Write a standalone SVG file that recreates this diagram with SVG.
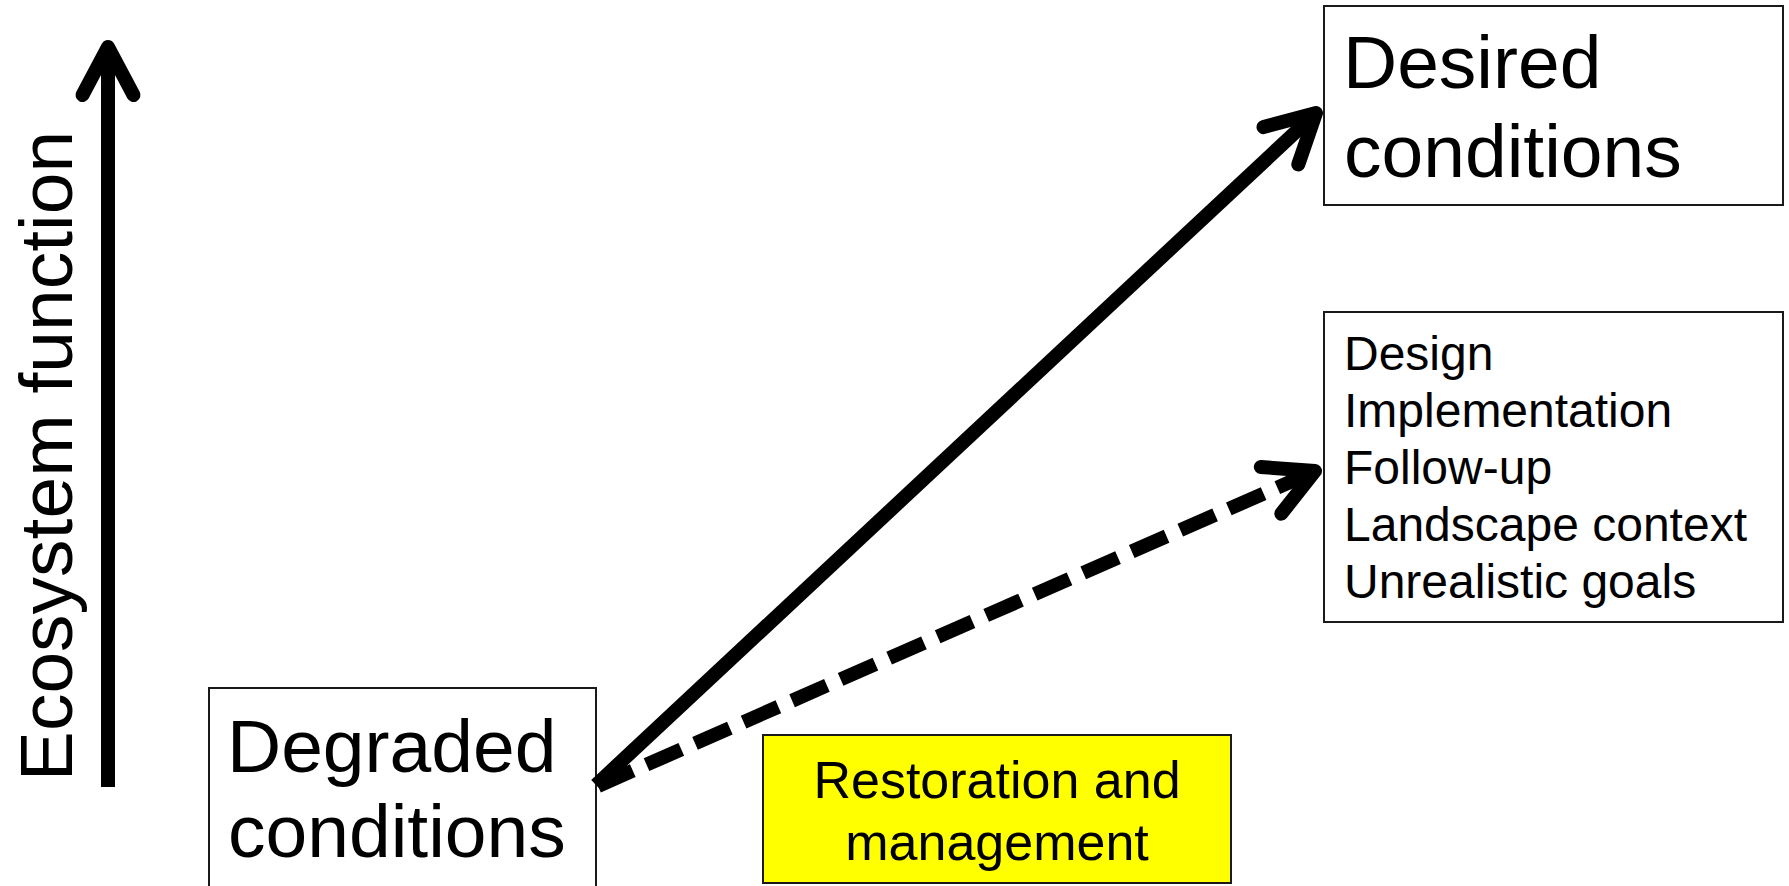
<svg xmlns="http://www.w3.org/2000/svg" width="1789" height="886" viewBox="0 0 1789 886">
<style>
.box{fill:#ffffff;stroke:#1a1a1a;stroke-width:2}
.ybox{fill:#ffff00;stroke:#1a1a1a;stroke-width:2}
.t{font-family:"Liberation Sans",Arial,sans-serif;fill:#000}
.conn{stroke:#000;stroke-width:14;fill:none;stroke-linecap:butt}
.dash{stroke-dasharray:38 15}
</style>
<defs>
<marker id="head" markerUnits="userSpaceOnUse" orient="auto" refX="0" refY="0" markerWidth="80" markerHeight="80" overflow="visible">
<path d="M -48,-25.5 L 0,0 L -48,25.5" fill="none" stroke="#000" stroke-width="14" stroke-linecap="round" stroke-linejoin="round"/>
</marker>
</defs>
<rect width="1789" height="886" fill="#ffffff"/>
<g id="axis">
<text class="t" font-size="75" text-anchor="middle" transform="translate(72,456) rotate(-90)">Ecosystem function</text>
</g>
<g id="desired">
<rect class="box" x="1324" y="6" width="459" height="199"/>
<text class="t" font-size="75" x="1343" y="88">Desired</text>
<text class="t" font-size="75" x="1344" y="177">conditions</text>
</g>
<g id="factors">
<rect class="box" x="1324" y="312" width="459" height="310"/>
<text class="t" font-size="48" x="1344" y="370">Design</text>
<text class="t" font-size="48" x="1344" y="427">Implementation</text>
<text class="t" font-size="48" x="1344" y="484">Follow-up</text>
<text class="t" font-size="48" x="1344" y="541">Landscape context</text>
<text class="t" font-size="48" x="1344" y="598">Unrealistic goals</text>
</g>
<g id="degraded">
<rect class="box" x="209" y="688" width="387" height="210"/>
<text class="t" font-size="75" x="227" y="772">Degraded</text>
<text class="t" font-size="75" x="228" y="857">conditions</text>
</g>
<g id="restoration">
<rect class="ybox" x="763" y="735" width="468" height="148"/>
<text class="t" font-size="52" text-anchor="middle" x="997" y="798">Restoration and</text>
<text class="t" font-size="52" text-anchor="middle" x="997" y="860">management</text>
</g>
<g id="connectors">
<line class="conn" x1="108" y1="787" x2="108" y2="47" marker-end="url(#head)"/>
<line class="conn" x1="596" y1="785" x2="1316" y2="113" marker-end="url(#head)"/>
<line class="conn dash" x1="598" y1="786" x2="1315" y2="471" marker-end="url(#head)"/>
</g>
</svg>
